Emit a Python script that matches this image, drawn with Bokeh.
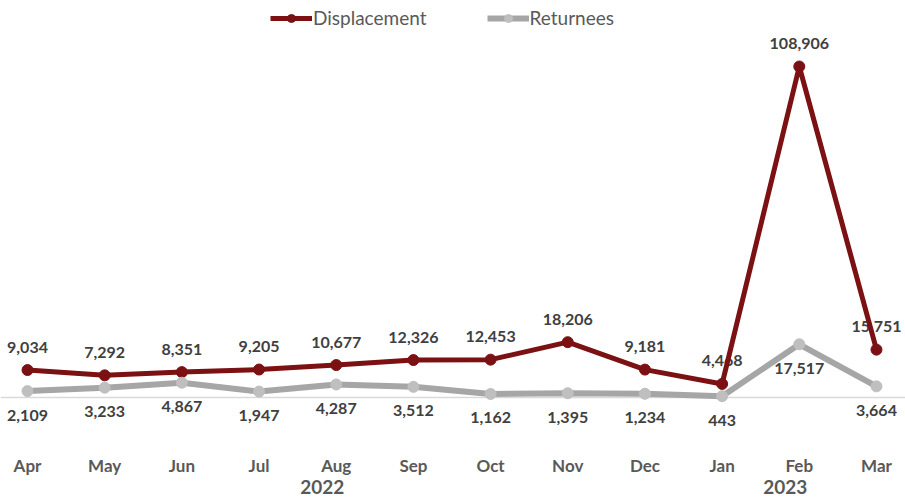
from bokeh.plotting import figure
from bokeh.models import Range1d, Span, Legend, LegendItem
from bokeh.core.properties import value
from bokeh.embed import file_html
from bokeh.resources import INLINE

months = ["Apr", "May", "Jun", "Jul", "Aug", "Sep", "Oct", "Nov", "Dec", "Jan", "Feb", "Mar"]
years = ["2022", "2023"]
year_month_counts = [9, 3]
displacement = [9034, 7292, 8351, 9205, 10677, 12326, 12453, 18206, 9181, 4468, 108906, 15751]
returnees = [2109, 3233, 4867, 1947, 4287, 3512, 1162, 1395, 1234, 443, 17517, 3664]

RED = "#7B1113"
GRAY_LINE = "#A6A6A6"
GRAY_MARK = "#BFBFBF"
FONT = value("Lato")

x = list(range(len(months)))

p = figure(width=905, height=499, x_range=Range1d(-0.35, 11.376),
           y_range=Range1d(-33560, 130622), output_backend="svg",
           toolbar_location=None, min_border=0)
p.xaxis.visible = False
p.yaxis.visible = False
p.xgrid.visible = False
p.ygrid.visible = False
p.outline_line_color = None
p.background_fill_color = "white"
p.border_fill_color = "white"

p.add_layout(Span(location=0, dimension="width", line_color="#D9D9D9",
                  line_width=1.5, level="underlay"))

# data labels (drawn before lines)
p.text(x, displacement, text=[f"{v:,}" for v in displacement], y_offset=-23,
       text_align="center", text_baseline="middle", text_font=FONT,
       text_font_style="bold", text_font_size="16px", text_color="#404040")
p.text(x, returnees, text=[f"{v:,}" for v in returnees], y_offset=24,
       text_align="center", text_baseline="middle", text_font=FONT,
       text_font_style="bold", text_font_size="16px", text_color="#404040")

# month labels
p.text(x, [0] * len(x), text=months, y_offset=68, text_align="center",
       text_baseline="middle", text_font=FONT, text_font_style="bold",
       text_font_size="17px", text_color="#595959")

# year labels
year_x = []
start = 0
for n in year_month_counts:
    year_x.append(start + (n - 1) / 2)
    start += n
p.text(year_x, [0] * len(years), text=years, x_offset=-14, y_offset=89,
       text_align="center", text_baseline="middle", text_font=FONT,
       text_font_style="bold", text_font_size="19px", text_color="#595959")

ld = p.line(x, displacement, line_color=RED, line_width=5)
sd = p.scatter(x, displacement, size=11, fill_color=RED, line_color=RED)
lr = p.line(x, returnees, line_color=GRAY_LINE, line_width=6)
sr = p.scatter(x, returnees, size=11, fill_color=GRAY_MARK, line_color=GRAY_MARK)

legend = Legend(items=[LegendItem(label="Displacement", renderers=[ld, sd]),
                       LegendItem(label="Returnees", renderers=[lr, sr])],
                orientation="horizontal", location=(270, 470),
                label_text_font="Lato", label_text_font_size="19px",
                label_text_color="#595959", glyph_width=42, glyph_height=20,
                label_standoff=1, spacing=60, padding=0, margin=0,
                border_line_color=None, background_fill_alpha=0)
p.add_layout(legend)

open("out.html", "w").write(file_html(p, INLINE))
